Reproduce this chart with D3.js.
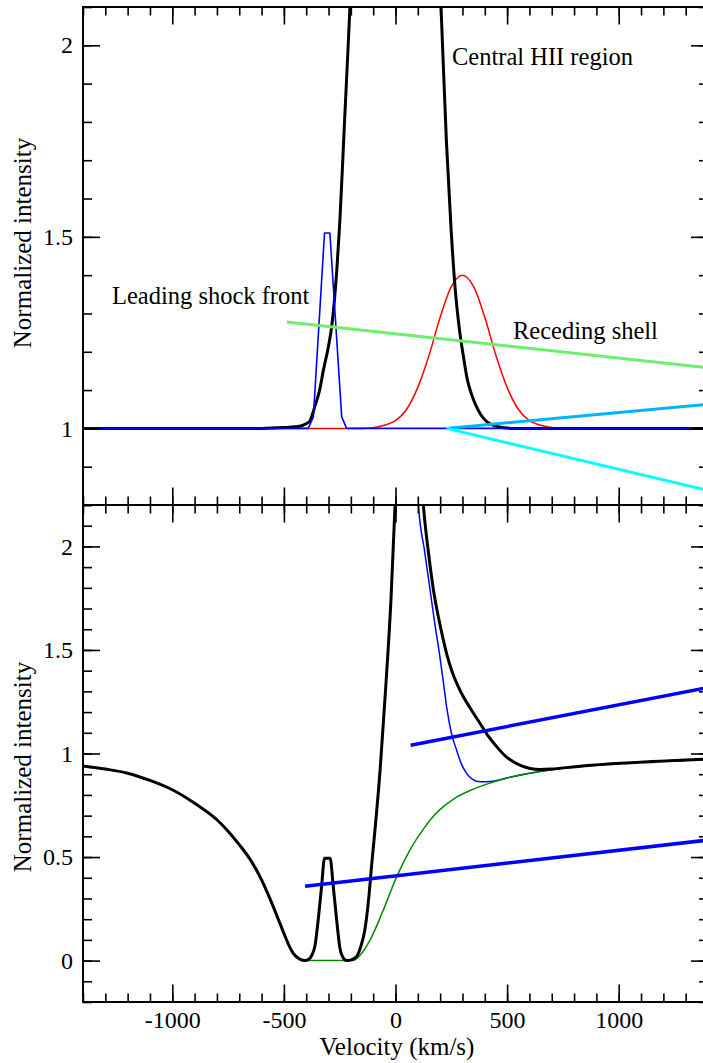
<!DOCTYPE html>
<html>
<head>
<meta charset="utf-8">
<script src="https://cdn.jsdelivr.net/npm/d3@7"></script>
<style>
  body { margin: 0; background: #fff; }
  svg { display: block; }
  svg text { font-family: "Liberation Serif", "DejaVu Serif", "Noto Serif", serif; fill: #000; }
</style>
</head>
<body>
<svg id="chart" width="703" height="1063"></svg>
<script>
// velocity ticks (km/s)
var velDomain = [-1400, 1400];
var velMajor = [-1000, -500, 0, 500, 1000];

// ---- top panel: model components, [velocity, normalized intensity]
var centralHII = [
  [-1400, 1.0], [-600, 1.0], [-500, 1.002], [-450, 1.004], [-420, 1.007], [-400, 1.012],
  [-383, 1.02], [-360, 1.06], [-340, 1.1], [-323, 1.152], [-300, 1.215], [-286, 1.265],
  [-263, 1.413], [-249, 1.544], [-230, 1.78], [-204, 2.1], [-180, 2.45], [-100, 3.5],
  [0, 4.2], [100, 3.5], [180, 2.45], [204, 2.1], [228, 1.75], [249, 1.52], [268, 1.36],
  [286, 1.26], [305, 1.185], [321, 1.13], [340, 1.09], [360, 1.06], [383, 1.035],
  [410, 1.017], [455, 1.005], [520, 1.0], [1400, 1.0]
];
var recedingShell = [
  [-1400, 1.0], [-150, 1.0], [-100, 1.002], [-50, 1.008], [0, 1.02], [50, 1.05],
  [100, 1.107], [150, 1.19], [200, 1.29], [250, 1.37], [300, 1.4], [350, 1.37],
  [400, 1.29], [450, 1.19], [500, 1.107], [550, 1.05], [600, 1.02], [650, 1.008],
  [700, 1.002], [750, 1.0], [1400, 1.0]
];
var shockFront = [
  [-1400, 1.0], [-391, 1.0], [-368, 1.03], [-318, 1.51], [-294, 1.51],
  [-241, 1.03], [-219, 1.0], [1330, 1.0]
];
var greenFit = [[-487, 1.278], [1400, 1.158]];
var cyanUpper = [[229, 1.0], [1400, 1.063]];
var cyanLower = [[229, 1.0], [1400, 0.838]];

// ---- bottom panel
var observed = [
  [-1400, 0.94], [-1300, 0.925], [-1200, 0.905], [-1100, 0.87], [-1000, 0.825],
  [-900, 0.76], [-800, 0.68], [-750, 0.625], [-700, 0.56], [-652, 0.49], [-600, 0.39],
  [-577, 0.335], [-540, 0.24], [-503, 0.14], [-480, 0.08], [-458, 0.035], [-430, 0.008],
  [-405, 0.0], [-390, 0.005], [-375, 0.025], [-361, 0.07], [-345, 0.21], [-331, 0.36],
  [-318, 0.494], [-293, 0.494], [-279, 0.36], [-264, 0.2], [-249, 0.06], [-235, 0.015],
  [-219, 0.0], [-195, 0.005], [-174, 0.02], [-155, 0.07], [-137, 0.15], [-120, 0.3],
  [-107, 0.46], [-92, 0.63], [-69, 0.92], [-45, 1.3], [-20, 1.75], [-2, 2.2], [30, 2.8],
  [60, 3.0], [90, 2.9], [125, 2.2], [150, 1.95], [170, 1.79], [192, 1.66], [214, 1.55],
  [232, 1.47], [252, 1.4], [278, 1.33], [304, 1.274], [340, 1.21], [379, 1.145],
  [415, 1.085], [454, 1.032], [490, 0.99], [528, 0.96], [565, 0.94], [603, 0.928],
  [647, 0.923], [700, 0.925], [827, 0.939], [1051, 0.955], [1400, 0.973]
];
var emissionPlusAbs = [
  [95, 2.4], [103, 2.2], [130, 1.98], [155, 1.789], [177, 1.62], [199, 1.467],
  [215, 1.34], [229, 1.225], [250, 1.1], [274, 1.016], [295, 0.95], [319, 0.903],
  [345, 0.875], [379, 0.863], [438, 0.866], [500, 0.882], [647, 0.913], [827, 0.937],
  [1051, 0.955], [1400, 0.972]
];
var absorption = [
  [-405, 0.0], [-189, 0.0], [-159, 0.026], [-114, 0.099], [-55, 0.243], [5, 0.404],
  [65, 0.535], [125, 0.635], [160, 0.685], [200, 0.73], [260, 0.78], [349, 0.828],
  [423, 0.857], [500, 0.882], [647, 0.913], [827, 0.937], [1051, 0.955], [1400, 0.972]
];
var blueUpper = [[68, 1.04], [1400, 1.319]];
var blueLower = [[-405, 0.359], [1400, 0.582]];

var topTicks = [1, 1.5, 2];
var bottomTicks = [0, 0.5, 1, 1.5, 2];

var svg = d3.select('#chart');
var left = 83, right = 708;
var serif = '"Liberation Serif", "DejaVu Serif", "Noto Serif", serif';

var x = d3.scaleLinear().domain(velDomain).range([left, right]);

var panels = [
  {id: 'top', domain: [0.8, 2.1], y0: 7, y1: 505, ticks: topTicks, labelY: 243},
  {id: 'bottom', domain: [-0.2, 2.2], y0: 505, y1: 1002, ticks: bottomTicks, labelY: 767}
];
panels.forEach(function(p) {
  p.y = d3.scaleLinear().domain(p.domain).range([p.y1, p.y0]);
});

function minorTicks(domain, step) {
  var out = [];
  var start = Math.ceil(domain[0] / step - 1e-9);
  var end = Math.floor(domain[1] / step + 1e-9);
  for (var i = start; i <= end; i++) out.push(+(i * step).toFixed(6));
  return out;
}

function styleAxis(g, fontSize) {
  g.attr('font-family', serif);
  g.select('.domain').remove();
  g.selectAll('line').attr('stroke', '#000').attr('stroke-width', 1.6);
  g.selectAll('text')
    .attr('font-family', serif)
    .attr('font-size', fontSize)
    .attr('fill', '#000');
}

function drawAxes(p, showX) {
  var g = svg.append('g');
  var xMinor = minorTicks(velDomain, 100);
  var yMinor = minorTicks(p.domain, 0.1);

  // x axis, top edge (ticks down) and bottom edge (ticks up)
  [[p.y0, d3.axisTop, false], [p.y1, d3.axisBottom, showX]].forEach(function(a) {
    var ax = a[1];
    g.append('g').attr('transform', 'translate(0,' + a[0] + ')')
      .call(ax(x).tickValues(xMinor).tickFormat('').tickSizeInner(-8.5).tickSizeOuter(0))
      .call(styleAxis, 24);
    g.append('g').attr('transform', 'translate(0,' + a[0] + ')')
      .call(ax(x).tickValues(velMajor).tickSizeInner(-17.5).tickSizeOuter(0).tickPadding(9)
        .tickFormat(a[2] ? function(d) { return String(d); } : ''))
      .call(styleAxis, 24);
  });

  // y axis, left edge (ticks right) and right edge (ticks left)
  [[left, d3.axisLeft, true], [right, d3.axisRight, false]].forEach(function(a) {
    var ax = a[1];
    g.append('g').attr('transform', 'translate(' + a[0] + ',0)')
      .call(ax(p.y).tickValues(yMinor).tickFormat('').tickSizeInner(-9).tickSizeOuter(0))
      .call(styleAxis, 24);
    g.append('g').attr('transform', 'translate(' + a[0] + ',0)')
      .call(ax(p.y).tickValues(p.ticks).tickSizeInner(-17).tickSizeOuter(0).tickPadding(10)
        .tickFormat(a[2] ? function(d) { return String(d); } : ''))
      .call(styleAxis, 24);
  });

  // frame
  g.append('rect')
    .attr('x', left).attr('y', p.y0)
    .attr('width', right - left).attr('height', p.y1 - p.y0)
    .attr('fill', 'none').attr('stroke', '#000').attr('stroke-width', 2);

  svg.append('text')
    .attr('transform', 'translate(31,' + p.labelY + ') rotate(-90)')
    .attr('text-anchor', 'middle')
    .attr('font-family', serif)
    .attr('font-size', 25)
    .text('Normalized intensity');
}

function drawLine(p, data, color, width, curve) {
  var line = d3.line()
    .x(function(d) { return x(d[0]); })
    .y(function(d) { return p.y(d[1]); })
    .curve(curve || d3.curveLinear);
  svg.select('#plot-' + p.id).append('path')
    .datum(data)
    .attr('d', line)
    .attr('fill', 'none')
    .attr('stroke', color)
    .attr('stroke-width', width)
    .attr('stroke-linejoin', 'round');
}

var defs = svg.append('defs');
panels.forEach(function(p) {
  defs.append('clipPath').attr('id', 'clip-' + p.id)
    .append('rect')
    .attr('x', left).attr('y', p.y0)
    .attr('width', right - left).attr('height', p.y1 - p.y0);
  svg.append('g').attr('id', 'plot-' + p.id).attr('clip-path', 'url(#clip-' + p.id + ')');
});

var topP = panels[0], botP = panels[1];

// top panel curves
drawLine(topP, recedingShell, '#ff0000', 1.5, d3.curveMonotoneX);
drawLine(topP, centralHII, '#000000', 3, d3.curveMonotoneX);
drawLine(topP, shockFront, '#0000ff', 1.6);
drawLine(topP, greenFit, '#6cf06c', 3);
drawLine(topP, cyanUpper, '#00b4ff', 3);
drawLine(topP, cyanLower, '#00ffff', 3);

// bottom panel curves
drawLine(botP, emissionPlusAbs, '#0000ff', 1.5, d3.curveMonotoneX);
drawLine(botP, absorption, '#008c00', 1.5, d3.curveMonotoneX);
drawLine(botP, observed, '#000000', 3, d3.curveMonotoneX);
drawLine(botP, blueUpper, '#0000ff', 3.5);
drawLine(botP, blueLower, '#0000ff', 3.5);

drawAxes(topP, false);
drawAxes(botP, true);

// annotations
var notes = [
  {text: 'Central HII region', x: 452, y: 65},
  {text: 'Leading shock front', x: 112, y: 304},
  {text: 'Receding shell', x: 513, y: 339}
];
svg.append('g').selectAll('text')
  .data(notes)
  .enter().append('text')
    .attr('x', function(d) { return d.x; })
    .attr('y', function(d) { return d.y; })
    .attr('font-family', serif)
    .attr('font-size', 24.5)
    .text(function(d) { return d.text; });

svg.append('text')
  .attr('x', 397).attr('y', 1055)
  .attr('text-anchor', 'middle')
  .attr('font-family', serif)
  .attr('font-size', 25)
  .text('Velocity (km/s)');
</script>
</body>
</html>
